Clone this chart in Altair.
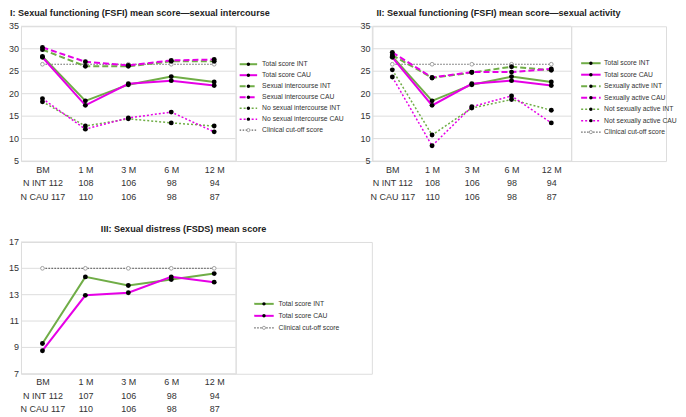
import altair as alt
import pandas as pd

categories = ["BM", "1 M", "3 M", "6 M", "12 M"]
row_names = ["N INT", "N CAU"]

# Panel I: Sexual functioning (FSFI) - sexual intercourse
p1_total_int = [28.3, 18.4, 22.0, 23.8, 22.6]
p1_total_cau = [28.1, 17.4, 22.2, 22.9, 21.8]
p1_inter_int = [29.8, 26.1, 26.1, 27.2, 27.2]
p1_inter_cau = [30.3, 27.1, 26.3, 27.4, 27.6]
p1_nointer_int = [18.2, 12.8, 14.4, 13.5, 12.8]
p1_nointer_cau = [18.9, 12.1, 14.6, 15.9, 11.5]
p1_cutoff = [26.55, 26.55, 26.55, 26.55, 26.55]
p1_n_int = [112, 108, 106, 98, 94]
p1_n_cau = [117, 110, 106, 98, 87]

# Panel II: Sexual functioning (FSFI) - sexual activity
p2_total_int = [28.3, 18.4, 22.0, 23.8, 22.6]
p2_total_cau = [28.1, 17.4, 22.2, 22.9, 21.8]
p2_active_int = [28.6, 23.5, 24.7, 26.0, 25.2]
p2_active_cau = [29.2, 23.6, 24.8, 24.8, 25.5]
p2_notactive_int = [25.3, 10.8, 16.8, 18.7, 16.3]
p2_notactive_cau = [23.7, 8.4, 17.1, 19.5, 13.5]
p2_cutoff = [26.55, 26.55, 26.55, 26.55, 26.55]
p2_n_int = [112, 108, 106, 98, 94]
p2_n_cau = [117, 110, 106, 98, 87]

# Panel III: Sexual distress (FSDS)
p3_total_int = [9.3, 14.35, 13.7, 14.15, 14.6]
p3_total_cau = [8.75, 12.95, 13.15, 14.35, 13.95]
p3_cutoff = [15, 15, 15, 15, 15]
p3_n_int = [112, 107, 106, 98, 94]
p3_n_cau = [117, 110, 106, 98, 87]

fsfi_ticks = [5, 10, 15, 20, 25, 30, 35]
fsds_ticks = [7, 9, 11, 13, 15, 17]

GREEN = "#70AD47"
MAGENTA = "#E600E6"
CUT = "#666666"
FONT = "Liberation Sans"
TXT = "#333333"

SOLID = dict(dash=None, width=2.0)
DASHED = dict(dash=[6, 3], width=2.0)
DOTTED = dict(dash=[2, 2], width=1.5)

styles = {
    "Total score INT": dict(color=GREEN, **SOLID),
    "Total score CAU": dict(color=MAGENTA, **SOLID),
    "Sexual intercourse INT": dict(color=GREEN, **DASHED),
    "Sexual intercourse CAU": dict(color=MAGENTA, **DASHED),
    "No sexual intercourse INT": dict(color=GREEN, **DOTTED),
    "No sexual intercourse CAU": dict(color=MAGENTA, **DOTTED),
    "Sexually active INT": dict(color=GREEN, **DASHED),
    "Sexually active CAU": dict(color=MAGENTA, **DASHED),
    "Not sexually active INT": dict(color=GREEN, **DOTTED),
    "Not sexually active CAU": dict(color=MAGENTA, **DOTTED),
    "Clinical cut-off score": dict(color=CUT, dash=[1.5, 1.5], width=1.2),
}
CUT_NAME = "Clinical cut-off score"


def label_expr(n_int, n_cau):
    expr = "datum.label"
    for i in reversed(range(len(categories))):
        c = categories[i]
        a = f"{row_names[0]} {n_int[i]}" if i == 0 else str(n_int[i])
        b = f"{row_names[1]} {n_cau[i]}" if i == 0 else str(n_cau[i])
        expr = f"datum.value == '{c}' ? ['{c}', '{a}', '{b}'] : ({expr})"
    return expr


def panel(series, n_int, n_cau, ydomain, yticks, width, height, title, dx):
    rows = []
    for name, vals in series:
        for c, v in zip(categories, vals):
            rows.append({"series": name, "cat": c, "value": v})
    df = pd.DataFrame(rows)
    x = alt.X(
        "cat:N", sort=categories,
        scale=alt.Scale(type="point", padding=0.5, domain=categories),
        axis=alt.Axis(title=None, labelExpr=label_expr(n_int, n_cau), labelAngle=0,
                      ticks=False, tickSize=0, domain=False, grid=False,
                      labelPadding=4, labelLineHeight=13.5, labelFontSize=9,
                      labelColor=TXT, labelFont=FONT),
    )
    yscale = alt.Scale(domain=ydomain, nice=False, zero=False)
    y = alt.Y("value:Q", scale=yscale, axis=None)
    yt = alt.Y("tick:Q", scale=yscale, axis=None)
    tick_df = pd.DataFrame({"tick": yticks})

    layers = [
        alt.Chart(tick_df).mark_rule(color="#dddddd", strokeWidth=1).encode(y=yt),
        alt.Chart(tick_df).mark_text(
            align="right", baseline="middle", fontSize=9, color=TXT, font=FONT
        ).encode(y=yt, x=alt.value(-2), text="tick:Q"),
    ]
    order = [CUT_NAME] + [n for n, _ in series if n != CUT_NAME]
    for name in order:
        st = styles[name]
        kw = dict(color=st["color"], strokeWidth=st["width"])
        if st["dash"]:
            kw["strokeDash"] = st["dash"]
        layers.append(alt.Chart(df[df.series == name]).mark_line(**kw).encode(x=x, y=y))
    layers.append(
        alt.Chart(df[df.series == CUT_NAME]).mark_point(
            shape="circle", filled=True, fill="white", stroke="#8c8c8c",
            strokeWidth=0.8, size=14, opacity=1).encode(x=x, y=y)
    )
    layers.append(
        alt.Chart(df[df.series != CUT_NAME]).mark_circle(
            size=24, color="black", opacity=1).encode(x=x, y=y)
    )
    return alt.layer(*layers).properties(
        width=width, height=height,
        title=alt.TitleParams(title, anchor="start", frame="group", dx=dx, offset=4,
                              fontSize=9.1, fontWeight="bold", color="#222222", font=FONT),
    )


def legend(items, width, height, yrange, x0, x1, xt):
    df = pd.DataFrame({"label": items})
    y = alt.Y("label:N", sort=items,
              scale=alt.Scale(type="point", domain=items, range=yrange, padding=0),
              axis=None)
    layers = []
    xm = (x0 + x1) / 2
    for item in items:
        st = styles[item]
        kw = dict(color=st["color"], strokeWidth=st["width"])
        if st["dash"]:
            kw["strokeDash"] = st["dash"]
        sub = df[df.label == item]
        layers.append(alt.Chart(sub).mark_rule(**kw).encode(
            y=y, x=alt.value(x0), x2=alt.value(x1)))
        if item == CUT_NAME:
            layers.append(alt.Chart(sub).mark_point(
                shape="circle", filled=True, fill="white", stroke="#8c8c8c",
                strokeWidth=0.8, size=10, opacity=1).encode(y=y, x=alt.value(xm)))
        else:
            layers.append(alt.Chart(sub).mark_circle(
                size=12, color="black", opacity=1).encode(y=y, x=alt.value(xm)))
    layers.append(alt.Chart(df).mark_text(
        align="left", baseline="middle", fontSize=6.8, color=TXT, font=FONT).encode(
        y=y, x=alt.value(xt), text="label:N"))
    return alt.layer(*layers).properties(width=width, height=height)


p1 = panel(
    [("Total score INT", p1_total_int), ("Total score CAU", p1_total_cau),
     ("Sexual intercourse INT", p1_inter_int), ("Sexual intercourse CAU", p1_inter_cau),
     ("No sexual intercourse INT", p1_nointer_int), ("No sexual intercourse CAU", p1_nointer_cau),
     (CUT_NAME, p1_cutoff)],
    p1_n_int, p1_n_cau, [5, 35], fsfi_ticks, 215, 135,
    "I: Sexual functioning (FSFI) mean score\u2014sexual intercourse", -11)

p2 = panel(
    [("Total score INT", p2_total_int), ("Total score CAU", p2_total_cau),
     ("Sexually active INT", p2_active_int), ("Sexually active CAU", p2_active_cau),
     ("Not sexually active INT", p2_notactive_int), ("Not sexually active CAU", p2_notactive_cau),
     (CUT_NAME, p2_cutoff)],
    p2_n_int, p2_n_cau, [5, 35], fsfi_ticks, 199, 135,
    "II: Sexual functioning (FSFI) mean score\u2014sexual activity", 4)

p3 = panel(
    [("Total score INT", p3_total_int), ("Total score CAU", p3_total_cau),
     (CUT_NAME, p3_cutoff)],
    p3_n_int, p3_n_cau, [7, 17], fsds_ticks, 215, 132,
    "III: Sexual distress (FSDS) mean score", 80)

l1 = legend(["Total score INT", "Total score CAU", "Sexual intercourse INT",
             "Sexual intercourse CAU", "No sexual intercourse INT",
             "No sexual intercourse CAU", CUT_NAME],
            136.4, 135, [38, 104], 4, 21.5, 26.5)
l2 = legend(["Total score INT", "Total score CAU", "Sexually active INT",
             "Sexually active CAU", "Not sexually active INT",
             "Not sexually active CAU", CUT_NAME],
            95, 135, [37, 106], 10, 29.5, 33)
l3 = legend(["Total score INT", "Total score CAU", CUT_NAME],
            136.4, 132, [62, 86], 18.6, 38.1, 43)

chart = alt.concat(
    p1, l1, p2, l2, p3, l3, columns=4, bounds="flush", align="each",
    spacing=alt.RowColnumber(row=81, column=0),
).properties(padding=0).configure_view(stroke=None).configure(background="white")

chart.save("out.html", embed_options={"renderer": "svg", "actions": False})
